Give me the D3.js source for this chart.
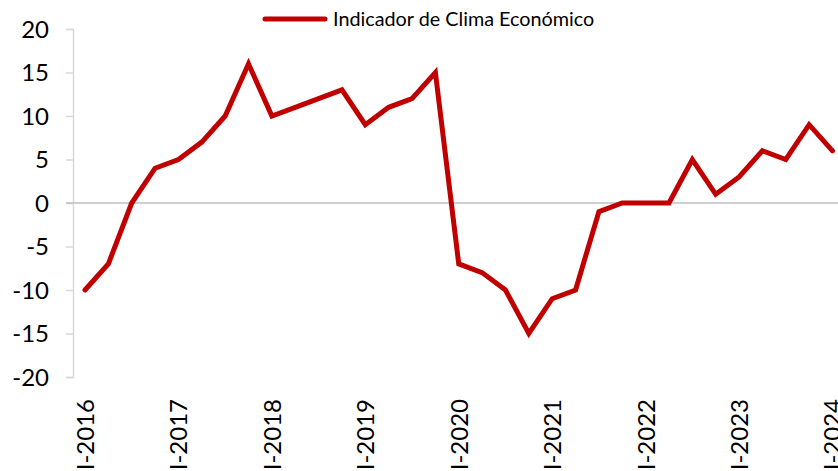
<!DOCTYPE html>
<html><head><meta charset="utf-8">
<script src="https://cdn.jsdelivr.net/npm/d3@7"></script>
<style>body{margin:0;background:#fff}svg{display:block}text{font-family:Lato,"Open Sans",sans-serif;fill:#000}</style>
</head><body><svg id="c" width="838" height="471"></svg>
<script>
const quarters = ["I-2016","II-2016","III-2016","IV-2016","I-2017","II-2017","III-2017","IV-2017","I-2018","II-2018","III-2018","IV-2018","I-2019","II-2019","III-2019","IV-2019","I-2020","II-2020","III-2020","IV-2020","I-2021","II-2021","III-2021","IV-2021","I-2022","II-2022","III-2022","IV-2022","I-2023","II-2023","III-2023","IV-2023","I-2024"];
const values = [-10,-7,0,4,5,7,10,16,10,11,12,13,9,11,12,15,-7,-8,-10,-15,-11,-10,-1,0,0,0,5,1,3,6,5,9,6];
const xTickLabels = ["I-2016","I-2017","I-2018","I-2019","I-2020","I-2021","I-2022","I-2023","I-2024"];
const yTicks = [-20,-15,-10,-5,0,5,10,15,20];
const seriesName = "Indicador de Clima Económico";

const svg = d3.select("#c");
const x = d3.scalePoint().domain(quarters).range([85, 832.5]);
const y = d3.scaleLinear().domain([-20, 20]).range([377, 29]);

// y axis
const yAxis = svg.append("g").attr("transform","translate(73,0)")
  .call(d3.axisLeft(y).tickValues(yTicks).tickSize(7).tickPadding(17).tickFormat(d=>String(d)));
yAxis.select(".domain").attr("stroke","#d9d9d9").attr("stroke-width",1.5);
yAxis.selectAll(".tick line").attr("stroke","#d9d9d9").attr("stroke-width",1.5);
yAxis.selectAll(".tick text").style("font-size","24px").attr("fill","#000").attr("dy","0.35em");

// zero line
svg.append("line").attr("x1",66).attr("x2",838).attr("y1",y(0)).attr("y2",y(0))
  .attr("stroke","#bfbfbf").attr("stroke-width",1.5);

// x axis labels
const xAxis = svg.append("g").attr("transform",`translate(0,${y(0)})`)
  .call(d3.axisBottom(x).tickValues(xTickLabels).tickSize(0).tickFormat(d=>d));
xAxis.select(".domain").remove();
xAxis.selectAll(".tick text")
  .attr("transform",`translate(0,${399 - y(0)}) rotate(-90)`)
  .attr("x",0).attr("y",0).attr("dy","0.35em")
  .attr("text-anchor","end").style("font-size","24px").attr("fill","#000");

// line
svg.append("path").datum(values)
  .attr("fill","none").attr("stroke","#c00000").attr("stroke-width",5)
  .attr("stroke-linejoin","miter").attr("stroke-linecap","round")
  .attr("d", d3.line().x((d,i)=>x(quarters[i])).y(d=>y(d)));

// legend
const lg = svg.append("g");
lg.append("line").attr("x1",265).attr("x2",325).attr("y1",19).attr("y2",19)
  .attr("stroke","#c00000").attr("stroke-width",5).attr("stroke-linecap","round");
lg.append("text").attr("x",333).attr("y",19).attr("dy","0.35em").style("font-size","19.8px").text(seriesName);
</script></body></html>
